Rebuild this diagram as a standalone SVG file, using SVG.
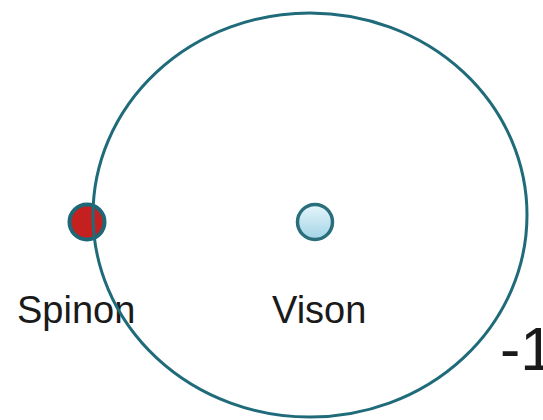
<svg xmlns="http://www.w3.org/2000/svg" width="543" height="420" viewBox="0 0 543 420">
<defs>
<linearGradient id="vg" x1="0" y1="0" x2="0" y2="1">
<stop offset="0" stop-color="#e6f5fb"/>
<stop offset="1" stop-color="#a2d4e6"/>
</linearGradient>
<style>
.lbl{font-family:"Liberation Sans",Arial,sans-serif;fill:#1a1a1a}
</style>
</defs>
<rect width="543" height="420" fill="#ffffff"/>
<g id="spinon">
<circle cx="87" cy="222" r="17.5" fill="#c4201f" stroke="#1f6676" stroke-width="4"/>
<text class="lbl" x="17" y="323" font-size="38">Spinon</text>
</g>
<g id="vison">
<circle cx="315" cy="222" r="17.5" fill="url(#vg)" stroke="#2a6e7c" stroke-width="3.5"/>
<text class="lbl" x="272" y="323" font-size="38">Vison</text>
</g>
<g id="connectors">
<ellipse cx="310" cy="215" rx="217" ry="202" fill="none" stroke="#1f6b7a" stroke-width="3"/>
</g>
<text class="lbl" x="500" y="370" font-size="61">-1</text>
</svg>
